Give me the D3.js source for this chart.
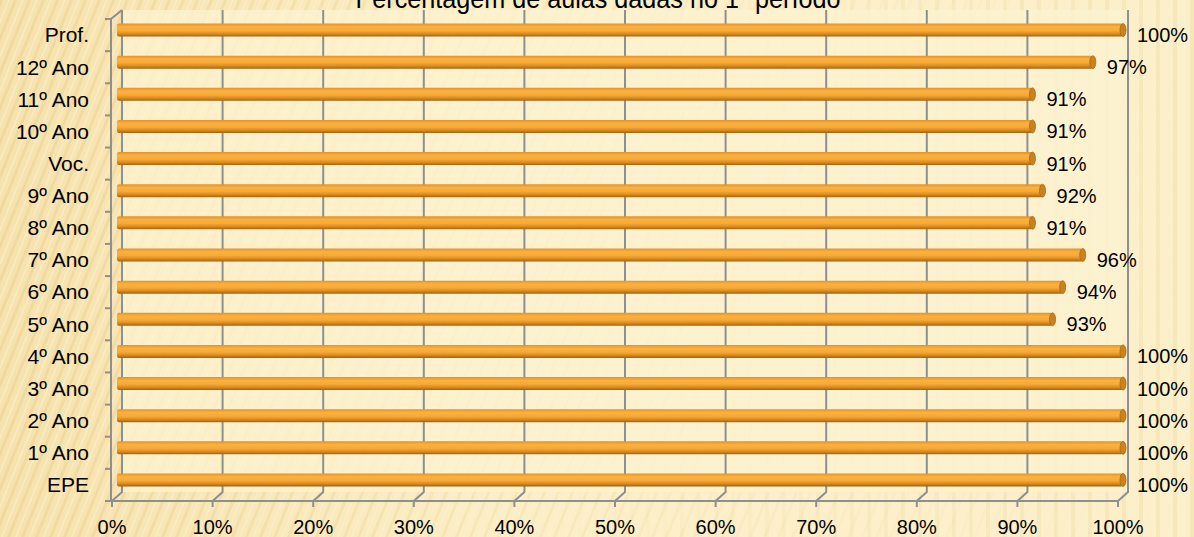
<!DOCTYPE html>
<html>
<head>
<meta charset="utf-8">
<script src="https://cdn.jsdelivr.net/npm/d3@7"></script>
<style>
  body { margin: 0; background: #fbeec5; }
  svg { display: block; }
  text { font-family: "Liberation Sans", Arial, sans-serif; fill: #000; }
</style>
</head>
<body>
<svg id="chart"></svg>
<script>
// data, top row first
const categories = ['Prof.', '12º Ano', '11º Ano', '10º Ano', 'Voc.', '9º Ano', '8º Ano',
    '7º Ano', '6º Ano', '5º Ano', '4º Ano', '3º Ano', '2º Ano', '1º Ano', 'EPE'];
const values = [1.00, 0.97, 0.91, 0.91, 0.91, 0.92, 0.91, 0.96, 0.94, 0.93, 1.00, 1.00, 1.00, 1.00, 1.00];
const xTicks = [0, 0.1, 0.2, 0.3, 0.4, 0.5, 0.6, 0.7, 0.8, 0.9, 1.0];
const title = 'Percentagem de aulas dadas no 1º período';

const width = 1194, height = 537;
const depth = { dx: 10, dy: -9 };   // 3d wall offset
const barH = 13;

const svg = d3.select('#chart').attr('width', width).attr('height', height);
const defs = svg.append('defs');

// background texture
const bg = defs.append('linearGradient').attr('id', 'bgGrad').attr('x1', 0).attr('x2', 1);
bg.append('stop').attr('offset', '0%').attr('stop-color', '#f6e2ad');
bg.append('stop').attr('offset', '45%').attr('stop-color', '#fcefc8');
bg.append('stop').attr('offset', '100%').attr('stop-color', '#fcf0cb');
svg.append('rect').attr('width', width).attr('height', height).attr('fill', 'url(#bgGrad)');

const diag = defs.append('pattern').attr('id', 'diag').attr('patternUnits', 'userSpaceOnUse')
    .attr('width', 14).attr('height', 40).attr('patternTransform', 'skewX(-22)');
diag.append('rect').attr('width', 3).attr('height', 40).attr('fill', '#e6cb88').attr('opacity', 0.4);
diag.append('rect').attr('x', 8).attr('width', 1.5).attr('height', 40).attr('fill', '#fff8e0').attr('opacity', 0.5);
const fadeL = defs.append('linearGradient').attr('id', 'fadeL').attr('x1', 0).attr('x2', 1);
fadeL.append('stop').attr('offset', '0%').attr('stop-color', '#fff').attr('stop-opacity', 1);
fadeL.append('stop').attr('offset', '60%').attr('stop-color', '#fff').attr('stop-opacity', 0.3);
fadeL.append('stop').attr('offset', '100%').attr('stop-color', '#fff').attr('stop-opacity', 0);
const maskL = defs.append('mask').attr('id', 'maskL');
maskL.append('rect').attr('width', width).attr('height', height).attr('fill', 'url(#fadeL)');
svg.append('rect').attr('width', width).attr('height', height)
    .attr('fill', 'url(#diag)').attr('mask', 'url(#maskL)');

const vert = defs.append('pattern').attr('id', 'vert').attr('patternUnits', 'userSpaceOnUse')
    .attr('width', 17).attr('height', 10);
vert.append('rect').attr('width', 4).attr('height', 10).attr('fill', '#ead59a').attr('opacity', 0.3);
const fadeR = defs.append('linearGradient').attr('id', 'fadeR').attr('x1', 0).attr('x2', 1);
fadeR.append('stop').attr('offset', '40%').attr('stop-color', '#fff').attr('stop-opacity', 0);
fadeR.append('stop').attr('offset', '100%').attr('stop-color', '#fff').attr('stop-opacity', 1);
const maskR = defs.append('mask').attr('id', 'maskR');
maskR.append('rect').attr('width', width).attr('height', height).attr('fill', 'url(#fadeR)');
svg.append('rect').attr('width', width).attr('height', height)
    .attr('fill', 'url(#vert)').attr('mask', 'url(#maskR)');

// scales (front plane)
const x = d3.scaleLinear().domain([0, 1]).range([112, 1118]);
const y = d3.scaleBand().domain(categories).range([19, 501]);
const x0 = x(0), x1 = x(1), yTop = y.range()[0], yBot = y.range()[1];

// back wall
svg.append('rect')
    .attr('x', x0 + depth.dx).attr('y', yTop + depth.dy)
    .attr('width', x1 - x0).attr('height', yBot - yTop)
    .attr('fill', '#fdf3d2').attr('opacity', 0.75);

const axisCol = '#8f8f8f';
const grid = svg.append('g').attr('stroke', axisCol).attr('stroke-width', 2).attr('fill', 'none');
xTicks.forEach(t => {
    const px = x(t);
    grid.append('path')
        .attr('d', `M${px},${yBot} L${px + depth.dx},${yBot + depth.dy} L${px + depth.dx},${yTop + depth.dy}`);
    grid.append('line').attr('x1', px).attr('x2', px).attr('y1', yBot).attr('y2', yBot + 6);
});
// floor front edge and left wall
grid.append('line').attr('x1', x0).attr('x2', x1).attr('y1', yBot).attr('y2', yBot);
grid.append('path')
    .attr('d', `M${x0 - 1},${yBot} L${x0 - 1},${yTop} L${x0 + depth.dx},${yTop + depth.dy}`);
y.domain().forEach(c => {
    grid.append('line').attr('x1', x0 - 7).attr('x2', x0 - 1)
        .attr('y1', y(c)).attr('y2', y(c));
});
grid.append('line').attr('x1', x0 - 7).attr('x2', x0 - 1).attr('y1', yBot).attr('y2', yBot);

// bar gradient (cylinder look)
const bg2 = defs.append('linearGradient').attr('id', 'barGrad').attr('x1', 0).attr('x2', 0).attr('y1', 0).attr('y2', 1);
[['0%', '#e0922c'], ['25%', '#fbb13f'], ['55%', '#f9a935'], ['80%', '#d9891f'], ['100%', '#9c6415']]
    .forEach(([o, c]) => bg2.append('stop').attr('offset', o).attr('stop-color', c));

const bx = d => x(d) + depth.dx / 2;
const by = c => y(c) + y.bandwidth() / 2 + depth.dy / 2 - 0.5;

const bars = svg.append('g').selectAll('g')
    .data(categories.map((c, i) => ({ cat: c, value: values[i] })))
    .join('g');

bars.append('rect')
    .attr('x', bx(0))
    .attr('y', d => by(d.cat) - barH / 2)
    .attr('width', d => bx(d.value) - bx(0))
    .attr('height', barH)
    .attr('rx', 2)
    .attr('fill', 'url(#barGrad)');

bars.append('ellipse')
    .attr('cx', d => bx(d.value))
    .attr('cy', d => by(d.cat))
    .attr('rx', 3)
    .attr('ry', barH / 2)
    .attr('fill', '#c98220')
    .attr('stroke', '#a8691a')
    .attr('stroke-width', 0.8);

// value labels
bars.append('text')
    .attr('x', d => bx(d.value) + 14)
    .attr('y', d => y(d.cat) + y.bandwidth() / 2)
    .attr('dy', '0.35em')
    .style('font-size', '20px')
    .text(d => d3.format('.0%')(d.value));

// category labels
svg.append('g').selectAll('text')
    .data(categories)
    .join('text')
    .attr('x', 89)
    .attr('y', c => y(c) + y.bandwidth() / 2)
    .attr('dy', '0.35em')
    .attr('text-anchor', 'end')
    .style('font-size', '21px')
    .text(c => c);

// x axis labels
svg.append('g').selectAll('text')
    .data(xTicks)
    .join('text')
    .attr('x', d => x(d))
    .attr('y', 527)
    .attr('dy', '0.35em')
    .attr('text-anchor', 'middle')
    .style('font-size', '20px')
    .text(d => d3.format('.0%')(d));

// title (partly cut at the top, as in the source)
svg.append('text')
    .attr('x', 598)
    .attr('y', 8)
    .attr('text-anchor', 'middle')
    .attr('textLength', 485)
    .attr('lengthAdjust', 'spacingAndGlyphs')
    .style('font-size', '27px')
    .text(title);
</script>
</body>
</html>
